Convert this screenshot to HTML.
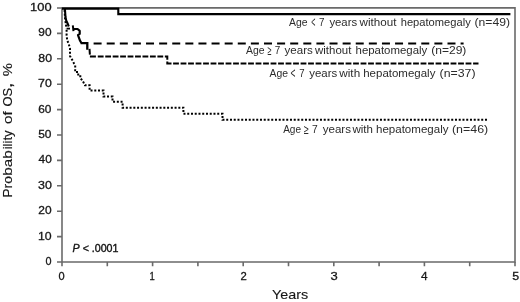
<!DOCTYPE html>
<html><head><meta charset="utf-8"><style>
html,body{margin:0;padding:0;background:#fff;width:520px;height:302px;overflow:hidden}
svg{display:block;filter:grayscale(1)}
text{font-family:"Liberation Sans",sans-serif;fill:#161616}
.lb text{fill:#2b2b2b}
</style></head><body>
<svg width="520" height="302" viewBox="0 0 520 302">
<g stroke="#6a6a6a" stroke-width="1.6" fill="none">
<path d="M62,7.9 H515 V262 H57"/>
<path d="M62,7.2 V266.2"/>
<path d="M57,236.6 H62 M57,211.2 H62 M57,185.8 H62 M57,160.4 H62 M57,135.0 H62 M57,109.6 H62 M57,84.2 H62 M57,58.8 H62 M57,33.4 H62 M57,8.0 H62"/>
<path d="M107.3,262 V266.2 M152.6,262 V266.2 M197.9,262 V266.2 M243.2,262 V266.2 M288.5,262 V266.2 M333.8,262 V266.2 M379.1,262 V266.2 M424.4,262 V266.2 M469.7,262 V266.2 M515.0,262 V266.2"/>
</g>
<text x="45.43" y="265.0" font-size="11.5" textLength="6.03" lengthAdjust="spacingAndGlyphs" stroke="#161616" stroke-width="0.3">0</text>
<text x="38.01" y="239.6" font-size="11.5" textLength="13.67" lengthAdjust="spacingAndGlyphs" stroke="#161616" stroke-width="0.3">10</text>
<text x="38.28" y="214.2" font-size="11.5" textLength="13.28" lengthAdjust="spacingAndGlyphs" stroke="#161616" stroke-width="0.3">20</text>
<text x="38.06" y="188.8" font-size="11.5" textLength="13.83" lengthAdjust="spacingAndGlyphs" stroke="#161616" stroke-width="0.3">30</text>
<text x="38.63" y="163.4" font-size="11.5" textLength="13.18" lengthAdjust="spacingAndGlyphs" stroke="#161616" stroke-width="0.3">40</text>
<text x="38.19" y="138.0" font-size="11.5" textLength="13.29" lengthAdjust="spacingAndGlyphs" stroke="#161616" stroke-width="0.3">50</text>
<text x="38.27" y="112.6" font-size="11.5" textLength="13.20" lengthAdjust="spacingAndGlyphs" stroke="#161616" stroke-width="0.3">60</text>
<text x="38.10" y="87.2" font-size="11.5" textLength="13.66" lengthAdjust="spacingAndGlyphs" stroke="#161616" stroke-width="0.3">70</text>
<text x="38.32" y="61.8" font-size="11.5" textLength="13.71" lengthAdjust="spacingAndGlyphs" stroke="#161616" stroke-width="0.3">80</text>
<text x="38.27" y="36.4" font-size="11.5" textLength="13.24" lengthAdjust="spacingAndGlyphs" stroke="#161616" stroke-width="0.3">90</text>
<text x="30.14" y="11.0" font-size="11.5" textLength="21.46" lengthAdjust="spacingAndGlyphs" stroke="#161616" stroke-width="0.3">100</text>
<text x="58.58" y="280.0" font-size="11.5" textLength="6.14" lengthAdjust="spacingAndGlyphs" stroke="#161616" stroke-width="0.3">0</text>
<text x="149.47" y="280.0" font-size="11.5" textLength="5.27" lengthAdjust="spacingAndGlyphs" stroke="#161616" stroke-width="0.3">1</text>
<text x="240.52" y="280.0" font-size="11.5" textLength="6.29" lengthAdjust="spacingAndGlyphs" stroke="#161616" stroke-width="0.3">2</text>
<text x="330.40" y="280.0" font-size="11.5" textLength="7.24" lengthAdjust="spacingAndGlyphs" stroke="#161616" stroke-width="0.3">3</text>
<text x="421.10" y="280.0" font-size="11.5" textLength="6.56" lengthAdjust="spacingAndGlyphs" stroke="#161616" stroke-width="0.3">4</text>
<text x="512.16" y="280.0" font-size="11.5" textLength="6.90" lengthAdjust="spacingAndGlyphs" stroke="#161616" stroke-width="0.3">5</text>
<text x="272.12" y="299.4" font-size="13.3" textLength="36.09" lengthAdjust="spacingAndGlyphs" stroke="#161616" stroke-width="0.12">Years</text>
<text x="72.57" y="251.7" font-size="11" textLength="45.92" lengthAdjust="spacingAndGlyphs" stroke="#161616" stroke-width="0.4"><tspan font-style="italic">P</tspan> &lt; .0001</text>
<text transform="translate(12.4,197.66) rotate(-90)" font-size="13.3" textLength="21.67" lengthAdjust="spacingAndGlyphs" stroke="#161616" stroke-width="0.12">Pro</text>
<text transform="translate(12.4,175.65) rotate(-90)" font-size="13.3" textLength="25.38" lengthAdjust="spacingAndGlyphs" stroke="#161616" stroke-width="0.12">bab</text>
<text transform="translate(12.4,149.30) rotate(-90)" font-size="13.3" textLength="19.01" lengthAdjust="spacingAndGlyphs" stroke="#161616" stroke-width="0.12">ility</text>
<text transform="translate(12.4,123.97) rotate(-90)" font-size="13.3" textLength="12.75" lengthAdjust="spacingAndGlyphs" stroke="#161616" stroke-width="0.12">of</text>
<text transform="translate(12.4,106.49) rotate(-90)" font-size="13.3" textLength="18.63" lengthAdjust="spacingAndGlyphs" stroke="#161616" stroke-width="0.12">OS</text>
<text transform="translate(12.4,87.67) rotate(-90)" font-size="16" textLength="4.82" lengthAdjust="spacingAndGlyphs" stroke="#161616" stroke-width="0.3">,</text>
<text transform="translate(12.4,76.28) rotate(-90)" font-size="13.3" textLength="13.14" lengthAdjust="spacingAndGlyphs" stroke="#161616" stroke-width="0.12">%</text>
<g class="lb">
<text x="289.11" y="26.0" font-size="10.8" textLength="18.53" lengthAdjust="spacingAndGlyphs">Age</text>
<text x="311.22" y="27.3" font-size="15" textLength="4.15" lengthAdjust="spacingAndGlyphs">&lt;</text>
<text x="318.92" y="26.0" font-size="10.8" textLength="5.44" lengthAdjust="spacingAndGlyphs">7</text>
<text x="329.40" y="26.0" font-size="10.8" textLength="27.75" lengthAdjust="spacingAndGlyphs">years</text>
<text x="359.58" y="26.0" font-size="10.8" textLength="36.90" lengthAdjust="spacingAndGlyphs">without</text>
<text x="400.71" y="26.0" font-size="10.8" textLength="70.02" lengthAdjust="spacingAndGlyphs">hepatomegaly</text>
<text x="474.54" y="26.0" font-size="10.8" textLength="35.46" lengthAdjust="spacingAndGlyphs">(n=49)</text>
<text x="246.11" y="54.0" font-size="10.8" textLength="18.53" lengthAdjust="spacingAndGlyphs">Age</text>
<text x="267.41" y="54.8" font-size="13.5" textLength="3.90" lengthAdjust="spacingAndGlyphs">≥</text>
<text x="274.64" y="54.0" font-size="10.8" textLength="5.50" lengthAdjust="spacingAndGlyphs">7</text>
<text x="284.60" y="54.0" font-size="10.8" textLength="28.27" lengthAdjust="spacingAndGlyphs">years</text>
<text x="315.07" y="54.0" font-size="10.8" textLength="36.27" lengthAdjust="spacingAndGlyphs">without</text>
<text x="355.54" y="54.0" font-size="10.8" textLength="71.77" lengthAdjust="spacingAndGlyphs">hepatomegaly</text>
<text x="431.21" y="54.0" font-size="10.8" textLength="35.17" lengthAdjust="spacingAndGlyphs">(n=29)</text>
<text x="269.51" y="76.7" font-size="10.8" textLength="18.48" lengthAdjust="spacingAndGlyphs">Age</text>
<text x="290.47" y="78.0" font-size="15" textLength="4.94" lengthAdjust="spacingAndGlyphs">&lt;</text>
<text x="299.13" y="76.7" font-size="10.8" textLength="5.33" lengthAdjust="spacingAndGlyphs">7</text>
<text x="309.21" y="76.7" font-size="10.8" textLength="27.98" lengthAdjust="spacingAndGlyphs">years</text>
<text x="339.32" y="76.7" font-size="10.8" textLength="20.83" lengthAdjust="spacingAndGlyphs">with</text>
<text x="363.24" y="76.7" font-size="10.8" textLength="72.16" lengthAdjust="spacingAndGlyphs">hepatomegaly</text>
<text x="439.63" y="76.7" font-size="10.8" textLength="35.91" lengthAdjust="spacingAndGlyphs">(n=37)</text>
<text x="283.14" y="133.0" font-size="10.8" textLength="17.88" lengthAdjust="spacingAndGlyphs">Age</text>
<text x="303.87" y="133.8" font-size="13.5" textLength="4.87" lengthAdjust="spacingAndGlyphs">≥</text>
<text x="311.90" y="133.0" font-size="10.8" textLength="5.71" lengthAdjust="spacingAndGlyphs">7</text>
<text x="322.68" y="133.0" font-size="10.8" textLength="28.30" lengthAdjust="spacingAndGlyphs">years</text>
<text x="352.43" y="133.0" font-size="10.8" textLength="20.47" lengthAdjust="spacingAndGlyphs">with</text>
<text x="375.96" y="133.0" font-size="10.8" textLength="72.58" lengthAdjust="spacingAndGlyphs">hepatomegaly</text>
<text x="451.91" y="133.0" font-size="10.8" textLength="36.28" lengthAdjust="spacingAndGlyphs">(n=46)</text>
</g>
<g fill="none" stroke="#000" stroke-width="2.1">
<path d="M62,8.6 H118.3 V14.1 H510.4"/>
</g>
<g fill="none" stroke="#000" stroke-width="2">
<!-- early overlapping band -->
<path d="M64.6,10 L64.8,14 L65,18 L65.4,21 L65.9,24.5 L66.5,28.5" stroke-width="2" stroke-dasharray="2 1.7"/>
<path d="M64.9,8.8 L65.2,13 L65.5,17 L66.2,20.5 L67.6,23.5 L68.8,26.5" stroke-width="2.1"/>
<path d="M66.6,28.6 H70" stroke-width="1.8"/>
<path d="M72.8,25.3 L73.5,31.2"/>
<path d="M73.3,29 H77.6 L79.7,30.8 V33.8 L78,35.2 L79,37.8 L80.1,40.8 L81.4,43" stroke-width="2.2" stroke-linejoin="round"/>
<path d="M80.6,43.1 H87.3 V49.8" stroke-width="2.3"/>
<path d="M89.5,48.9 L89.9,54.6 M89.9,56.5 H95.9"/>
<!-- long dash -->
<path d="M93.6,43.4 H463.6" stroke-dasharray="8 5.107"/>
<!-- short dash -->
<path d="M97.8,56.5 H167.3 V60" stroke-dasharray="5.8 1.65"/>
<path d="M167.3,61.6 V63.4 H171.5"/>
<path d="M173.1,63.4 H478.5" stroke-dasharray="5.8 1.7"/>
</g>
<g fill="none" stroke="#000" stroke-width="2" stroke-dasharray="2 1.75" id="dots">
<path id="dotp" d="M66.6,29.8 V35.5 L67.3,40.7 L68.6,43.3 L69.3,46 L70,48.6 V56 L71.3,58.5 L72.6,60.5 L73.9,63.2 L75.2,65.2 V70.3 H77 V74.6 H80.3 V78.6 L82.3,80 L83.6,82.6 L84.9,85.2 H89.6 V90.5 H103.5 V96.5 H112.5 V101.7 H122.6 V107.7 H183.4 V113.8 H222.5 V119.8 H487"/>
</g>

</svg>
</body></html>
